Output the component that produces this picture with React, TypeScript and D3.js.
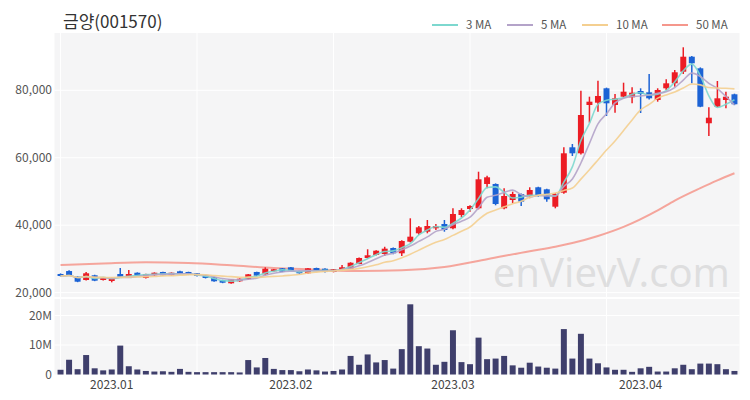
import React from "react";
import * as d3 from "d3";

const title = "금양(001570)";

// OHLC, one entry per trading day
const opens = [
  25520, 26400, 24720, 23740, 25140, 23740, 23450, 25520, 24720, 25900,
  24340, 25140, 26120, 25140, 26320, 26120, 25730, 25140, 24540, 23740,
  22760, 23360, 24000, 26120, 25430, 26320, 27210, 27510, 26410, 25730,
  27300, 27090, 26120, 26710, 27090, 28490, 30270, 31160, 31450, 33230,
  31660, 35100, 37590, 38070, 39080, 40350, 39080, 43020, 44800, 45010,
  52220, 52220, 45010, 47470, 49250, 48660, 51240, 50640, 45480, 49640,
  63100, 61320, 75650, 76330, 80600, 75650, 78110, 77930, 79800, 79410,
  77130, 80600, 82080, 85520, 89970, 86530, 70230, 75140, 77130, 78820,
];
const highs = [
  25700, 26600, 24900, 26100, 25300, 24600, 24500, 27300, 26700, 26000,
  25600, 26000, 26200, 26000, 26500, 26200, 25800, 25200, 24600, 23800,
  24000, 24200, 25500, 26200, 27500, 27000, 27300, 27600, 26500, 27300,
  27400, 27200, 27000, 28200, 29000, 30400, 32850, 32600, 33600, 33400,
  35500, 42040, 39760, 41540, 40350, 41540, 45010, 45010, 45900, 55860,
  54680, 52400, 50940, 49930, 49400, 51240, 51400, 50800, 49500, 63100,
  64080, 79890, 78110, 82860, 80800, 78910, 82260, 80900, 80600, 84840,
  80600, 83270, 86030, 92760, 90200, 86800, 74970, 82770, 79590, 79000,
];
const lows = [
  24800, 25100, 23100, 23600, 23400, 23600, 23050, 24600, 24600, 24800,
  24200, 25000, 25000, 25000, 25400, 25200, 24800, 24200, 23200, 22800,
  22600, 23200, 23900, 24900, 25300, 26200, 26100, 26400, 25600, 25600,
  26400, 26000, 26000, 26600, 27000, 28400, 30100, 31000, 30860, 31400,
  30860, 34900, 37090, 37590, 38570, 38070, 38770, 42340, 44000, 44700,
  50940, 45900, 44700, 46500, 45690, 48000, 48450, 46970, 45000, 49300,
  60520, 61000, 70400, 73660, 72380, 73360, 77800, 76150, 73270, 77300,
  76630, 80100, 81080, 84840, 82080, 75000, 66460, 75000, 74670, 75600,
];
const closes = [
  24930, 25230, 23240, 25730, 23540, 24420, 24340, 24720, 25520, 24930,
  25520, 25900, 25140, 25900, 25520, 25320, 24930, 24340, 23360, 22940,
  23950, 24130, 25430, 25020, 27090, 26920, 26200, 26500, 25730, 27210,
  26500, 26120, 26920, 27510, 28870, 30270, 31070, 32430, 33030, 31660,
  35310, 36590, 39370, 39760, 39760, 38570, 43320, 44500, 45690, 53610,
  54200, 46280, 48660, 49250, 46980, 50440, 48950, 47680, 49250, 61320,
  61320, 72680, 76630, 78320, 76150, 77630, 79590, 79300, 78910, 77630,
  80100, 82080, 85350, 89970, 88020, 75140, 71880, 77630, 78110, 75860,
];
// volume in millions of shares
const volumes = [
  1.6, 5.0, 1.8, 6.6, 2.1, 1.4, 1.7, 9.8, 2.8, 1.7,
  1.2, 1.0, 1.1, 0.9, 1.9, 0.9, 0.8, 0.8, 0.8, 0.8,
  0.8, 0.7, 4.9, 2.4, 5.6, 1.9, 1.5, 1.5, 1.1, 1.7,
  1.4, 1.0, 1.2, 1.7, 6.3, 3.3, 6.8, 4.1, 4.9, 2.0,
  8.6, 23.8, 9.6, 8.8, 3.3, 4.3, 15.0, 4.2, 3.5, 12.5,
  5.2, 5.4, 6.3, 3.1, 2.3, 4.0, 2.7, 2.3, 2.0, 15.4,
  5.4, 13.8, 5.4, 3.8, 2.4, 1.6, 1.6, 0.9, 2.1, 2.6,
  1.0, 1.0, 2.1, 3.3, 1.8, 3.7, 3.7, 3.5, 1.8, 1.2,
];
// 50-day MA read at sampled days: [day index, value]
const ma50Points: [number, number][] = [
  [0, 28190], [5, 28640], [10, 28990], [15, 28780], [20, 28100],
  [25, 27300], [30, 26860], [35, 26400], [40, 26600], [45, 27600],
  [50, 29900], [55, 32300], [58, 33600], [60, 34700], [63, 36800],
  [66, 39500], [70, 44400], [72, 47300], [75, 51000], [77, 53300],
  [79, 55400],
];

const priceTicks = [20000, 40000, 60000, 80000];
const volumeTicks = [0, 10, 20];
const volumeTickLabels = ["0", "10M", "20M"];
const monthLabels = ["2023.01", "2023.02", "2023.03", "2023.04"];
const monthIndex = [6, 27, 46, 68];
const gridIndex = [0, 16, 32, 48, 64];

const legend = [
  { label: "3 MA", color: "#7dd8cf" },
  { label: "5 MA", color: "#b4a3c9" },
  { label: "10 MA", color: "#f4cf90" },
  { label: "50 MA", color: "#f5978c" },
];

const UP = "#ec1c24";
const DOWN = "#1c63d5";
const FONT = "'Noto Sans CJK KR', 'Noto Sans', sans-serif";

function movingAvg(values: number[], n: number) {
  return values.map((_, i) => d3.mean(values.slice(Math.max(0, i - n + 1), i + 1)) as number);
}

export default function App() {
  const width = 750;
  const height = 400;
  const left = 54.5;
  const right = 739.5;

  const idx = d3.range(closes.length);
  const x = d3.scaleBand<number>().domain(idx).range([55, 740]).padding(0.3);
  const cx = (i: number) => (x(i) as number) + x.bandwidth() / 2;

  const y = d3.scaleLinear().domain([18700, 97000]).range([297, 33]);
  const yv = d3.scaleLinear().domain([0, 25.6]).range([374.5, 299]);

  const line = d3
    .line<number>()
    .x((_, i) => cx(i))
    .y((d) => y(d))
    .curve(d3.curveMonotoneX);

  const line50 = d3
    .line<[number, number]>()
    .x((d) => cx(d[0]))
    .y((d) => y(d[1]))
    .curve(d3.curveMonotoneX);

  const maLines = [
    { data: movingAvg(closes, 3), color: legend[0].color },
    { data: movingAvg(closes, 5), color: legend[1].color },
    { data: movingAvg(closes, 10), color: legend[2].color },
  ];

  return (
    <svg
      width={width}
      height={height}
      style={{ position: "absolute", left: 0, top: 0, background: "#fff" }}
      fontFamily={FONT}
    >
      <text x={63} y={28} fontSize={17} fill="#333">
        {title}
      </text>

      {/* legend */}
      {legend.map((d, i) => {
        const lx = [432, 507, 582, 662][i];
        return (
          <g key={d.label}>
            <line x1={lx} x2={lx + 26} y1={25} y2={25} stroke={d.color} strokeWidth={2} />
            <text x={lx + 34} y={29} fontSize={11.5} fill="#555">
              {d.label}
            </text>
          </g>
        );
      })}

      {/* panels */}
      <rect x={left} y={33} width={right - left} height={264} fill="#f5f5f6" />
      <rect x={left} y={299} width={right - left} height={75.5} fill="#f5f5f6" />

      {priceTicks.map((t) => (
        <g key={t}>
          <line x1={left} x2={right} y1={y(t)} y2={y(t)} stroke="#fff" strokeWidth={1} />
          <text x={52} y={y(t) + 4} fontSize={12} fill="#555" textAnchor="end">
            {d3.format(",")(t)}
          </text>
        </g>
      ))}
      {volumeTicks.map((t, i) => (
        <g key={t}>
          {t > 0 && <line x1={left} x2={right} y1={yv(t)} y2={yv(t)} stroke="#fff" strokeWidth={1} />}
          <text x={52} y={yv(t) + 4} fontSize={12} fill="#555" textAnchor="end">
            {volumeTickLabels[i]}
          </text>
        </g>
      ))}
      {gridIndex.map((i) => (
        <g key={i}>
          <line x1={cx(i)} x2={cx(i)} y1={33} y2={297} stroke="#fff" strokeWidth={1} />
          <line x1={cx(i)} x2={cx(i)} y1={299} y2={374.5} stroke="#fff" strokeWidth={1} />
        </g>
      ))}

      {/* watermark */}
      <text x={730} y={287} fontSize={40} fill="#c8c8c8" fillOpacity={0.5} textAnchor="end" fontFamily="'Noto Sans', sans-serif">
        enVievV.com
      </text>

      {/* 50 MA */}
      <path d={line50(ma50Points) || ""} fill="none" stroke={legend[3].color} strokeWidth={2} strokeOpacity={0.85} />

      {/* candles */}
      {idx.map((i) => {
        const up = closes[i] >= opens[i];
        const c = up ? UP : DOWN;
        const top = y(Math.max(opens[i], closes[i]));
        const bot = y(Math.min(opens[i], closes[i]));
        return (
          <g key={i}>
            <line x1={cx(i)} x2={cx(i)} y1={y(highs[i])} y2={y(lows[i])} stroke={c} strokeWidth={1.5} />
            <rect x={x(i)} y={top} width={x.bandwidth()} height={Math.max(1.5, bot - top)} fill={c} />
          </g>
        );
      })}

      {/* short MAs */}
      {maLines.map((m, k) => (
        <path key={k} d={line(m.data) || ""} fill="none" stroke={m.color} strokeWidth={1.6} strokeOpacity={0.9} />
      ))}

      {/* volume */}
      {idx.map((i) => (
        <rect
          key={i}
          x={x(i)}
          y={yv(volumes[i])}
          width={x.bandwidth()}
          height={yv(0) - yv(volumes[i])}
          fill="#3f3f6c"
        />
      ))}

      {monthLabels.map((m, k) => (
        <text key={m} x={cx(monthIndex[k])} y={389} fontSize={12} fill="#444" textAnchor="middle">
          {m}
        </text>
      ))}
    </svg>
  );
}
